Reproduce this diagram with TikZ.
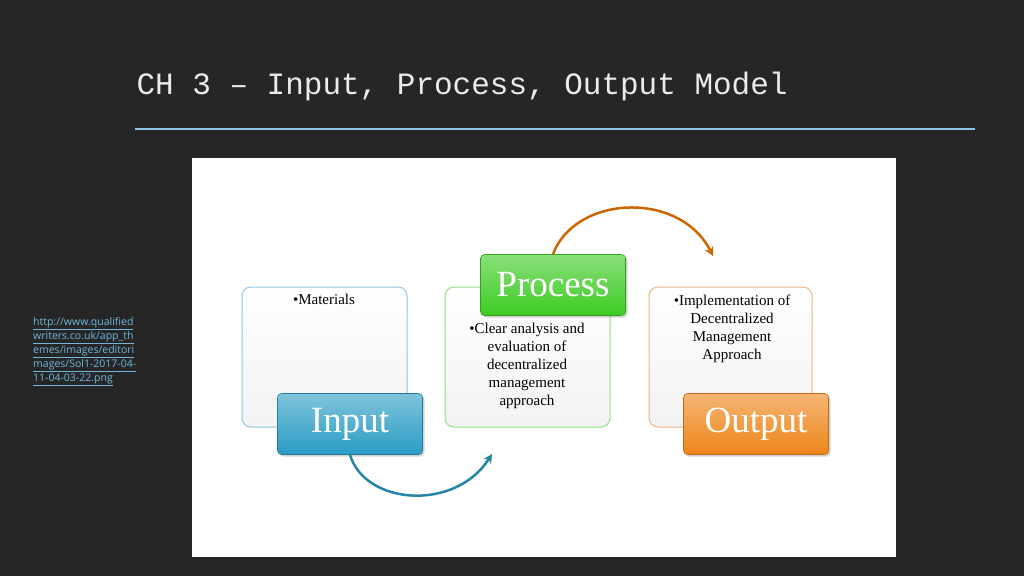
\documentclass[tikz,border=0pt]{standalone}
\usepackage{fontspec}
\setmainfont{Liberation Serif}
\newfontfamily\monof{Liberation Mono}
\newfontfamily\linkf{Open Sans}
\usetikzlibrary{arrows.meta,shadows}
\definecolor{bg}{HTML}{262626}
\definecolor{lnk}{HTML}{6FB7E0}
\definecolor{pin}{HTML}{8CC8E0}
\definecolor{ppr}{HTML}{8FE07A}
\definecolor{pou}{HTML}{F3B480}
\tikzset{
 panel/.style={draw=#1, line width=1pt, rounded corners=9pt, top color=white, bottom color=black!5},
 tab/.style={rounded corners=4pt, text=white, font=\fontsize{37}{37}\selectfont, minimum width=145pt, minimum height=61pt, top color=#1!60, bottom color=#1, draw=#1!80!black, line width=0.6pt, drop shadow={opacity=0.35, shadow xshift=2pt, shadow yshift=-2pt}},
 body/.style={font=\fontsize{15}{18}\selectfont, align=center, text=black},
 curve/.style={line width=2.5pt, -{Stealth[length=9pt,width=9pt]}},
}
\begin{document}
\begin{tikzpicture}[x=1pt,y=-1pt]
\useasboundingbox (0,0) rectangle (1024,576);
\fill[bg] (0,0) rectangle (1024,576);
\node[anchor=west, text=black!8, font=\monof\fontsize{31}{31}\selectfont] (title) at (133,86) {CH 3 – Input, Process, Output Model};
\draw[line width=2.5pt, color=lnk!80] (135,129) -- (975,129);
\node[anchor=north west, align=left, text=lnk, font=\linkf\fontsize{10.5}{14}\selectfont, inner sep=0pt] (link) at (33,317)
 {\underline{http://www.qualified}\\\underline{writers.co.uk/app\_th}\\\underline{emes/images/editori}\\\underline{mages/Sol1-2017-04-}\\\underline{11-04-03-22.png}};
\fill[white] (192,158) rectangle (896,557);
% panels
\draw[panel=pin] (242,287) rectangle (407,427);
\draw[panel=ppr] (445,287) rectangle (610,427);
\draw[panel=pou] (649,287) rectangle (812,427);
\node[body, anchor=north] (m) at (324,291) {•Materials};
\node[body, anchor=north] (p) at (527,320) {•Clear analysis and\\evaluation of\\decentralized\\management\\approach};
\node[body, anchor=north] (o) at (732,291) {•Implementation of\\Decentralized\\Management\\Approach};
% tabs
\definecolor{cin}{HTML}{2A9CC4}
\definecolor{cpr}{HTML}{3CCB22}
\definecolor{cou}{HTML}{EE8518}
\node[tab=cin] (in) at (350,424) {\raisebox{-3pt}{Input}};
\node[tab=cpr] (pr) at (553,285) {\raisebox{-1pt}{Process}};
\node[tab=cou] (ou) at (756,424) {\raisebox{-3pt}{Output}};
% arrows
\coordinate (a1) at (492,454);
\coordinate (a2) at (713,256);
\draw[curve, color=cin!85!black] (in.south) .. controls (365,505) and (455,512) .. (a1);
\draw[curve, color=orange!80!black] (pr.north) .. controls (575,195) and (680,190) .. (a2);
\end{tikzpicture}
\end{document}
